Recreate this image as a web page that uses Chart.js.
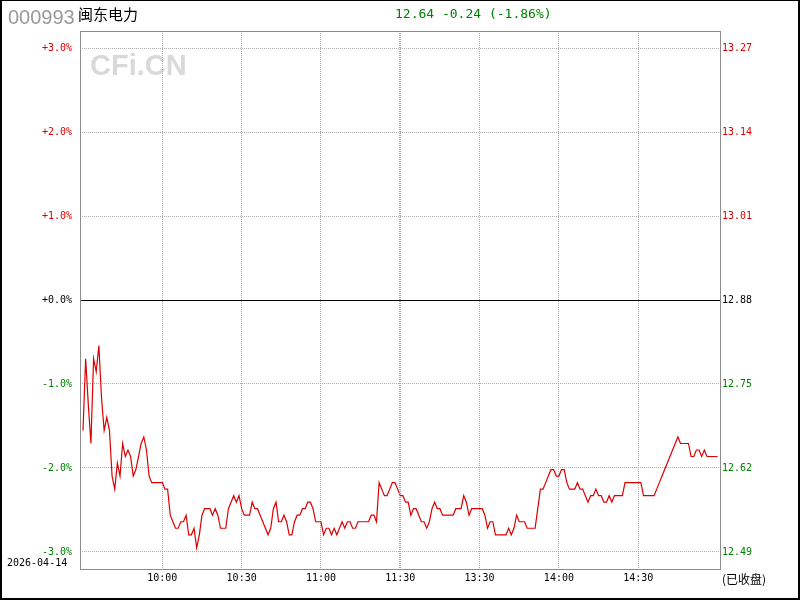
<!DOCTYPE html>
<html>
<head>
<meta charset="utf-8">
<script src="https://cdn.jsdelivr.net/npm/chart.js@4.4.1/dist/chart.umd.min.js"></script>
<style>
  html, body { margin: 0; padding: 0; background: #fff; overflow: hidden; }
  canvas { display: block; }
</style>
</head>
<body>
<canvas id="minuteChart" width="800" height="600"></canvas>
<script>
// ---- data
const stockCode = '000993';
const stockName = '闽东电力';
const tradeDate = '2026-04-14';
const prevClose = 12.88;

// one price per trading minute, 09:30 .. 11:30 / 13:00 .. 15:00
const prices = [
  12.68, 12.79, 12.72, 12.66, 12.79, 12.77, 12.81, 12.73, 12.68, 12.70,
  12.68, 12.61, 12.59, 12.63, 12.61, 12.66, 12.64, 12.65, 12.64, 12.61,
  12.62, 12.64, 12.66, 12.67, 12.65, 12.61, 12.60, 12.60, 12.60, 12.60,
  12.60, 12.59, 12.59, 12.55, 12.54, 12.53, 12.53, 12.54, 12.54, 12.55,
  12.52, 12.52, 12.53, 12.50, 12.52, 12.55, 12.56, 12.56, 12.56, 12.55,
  12.56, 12.55, 12.53, 12.53, 12.53, 12.56, 12.57, 12.58, 12.57, 12.58,
  12.56, 12.55, 12.55, 12.55, 12.57, 12.56, 12.56, 12.55, 12.54, 12.53,
  12.52, 12.53, 12.56, 12.57, 12.54, 12.54, 12.55, 12.54, 12.52, 12.52,
  12.54, 12.55, 12.55, 12.56, 12.56, 12.57, 12.57, 12.56, 12.54, 12.54,
  12.54, 12.52, 12.53, 12.53, 12.52, 12.53, 12.52, 12.53, 12.54, 12.53,
  12.54, 12.54, 12.53, 12.53, 12.54, 12.54, 12.54, 12.54, 12.54, 12.55,
  12.55, 12.54, 12.60, 12.59, 12.58, 12.58, 12.59, 12.60, 12.60, 12.59,
  12.58, 12.58, 12.57, 12.57, 12.55, 12.56, 12.56, 12.55, 12.54, 12.54,
  12.53, 12.54, 12.56, 12.57, 12.56, 12.56, 12.55, 12.55, 12.55, 12.55,
  12.55, 12.56, 12.56, 12.56, 12.58, 12.57, 12.55, 12.56, 12.56, 12.56,
  12.56, 12.56, 12.55, 12.53, 12.54, 12.54, 12.52, 12.52, 12.52, 12.52,
  12.52, 12.53, 12.52, 12.53, 12.55, 12.54, 12.54, 12.54, 12.53, 12.53,
  12.53, 12.53, 12.56, 12.59, 12.59, 12.60, 12.61, 12.62, 12.62, 12.61,
  12.61, 12.62, 12.62, 12.60, 12.59, 12.59, 12.59, 12.60, 12.59, 12.59,
  12.58, 12.57, 12.58, 12.58, 12.59, 12.58, 12.58, 12.57, 12.57, 12.58,
  12.57, 12.58, 12.58, 12.58, 12.58, 12.60, 12.60, 12.60, 12.60, 12.60,
  12.60, 12.60, 12.58, 12.58, 12.58, 12.58, 12.58, 12.59, 12.60, 12.61,
  12.62, 12.63, 12.64, 12.65, 12.66, 12.67, 12.66, 12.66, 12.66, 12.66,
  12.64, 12.64, 12.65, 12.65, 12.64, 12.65, 12.64, 12.64, 12.64, 12.64,
  12.64
];

const pctTicks = [-3, -2, -1, 0, 1, 2, 3];
const timeTicks = [30, 60, 90, 120, 150, 180, 210];
const timeLabels = ['10:00', '10:30', '11:00', '11:30', '13:30', '14:00', '14:30'];

// ---- look
const RED = '#dd0000';
const GREEN = '#008000';
const GRID = '#aaaaaa';
const FRAME = '#8c8c8c';
const pctRange = 3.2024;
const monoFont = '"DejaVu Sans Mono", monospace';

function colorFor(v, base) {
  if (Math.abs(v - base) < 1e-9) return '#000';
  return v > base ? RED : GREEN;
}

const lastPrice = prices[prices.length - 1];
const change = lastPrice - prevClose;
const changePct = change / prevClose * 100;
const headerText = lastPrice.toFixed(2) + ' ' + (change >= 0 ? '+' : '') + change.toFixed(2) +
  ' (' + (changePct >= 0 ? '+' : '') + changePct.toFixed(2) + '%)';

const decor = {
  id: 'decor',
  beforeDraw(chart) {
    const ctx = chart.ctx;
    ctx.save();
    ctx.fillStyle = '#fff';
    ctx.fillRect(0, 0, chart.width, chart.height);
    // watermark
    ctx.font = 'bold 29px "Liberation Sans", Arial, sans-serif';
    ctx.fillStyle = '#d9d9d9';
    ctx.textBaseline = 'alphabetic';
    ctx.fillText('CFi.CN', 90, 75);
    ctx.restore();
  },
  afterDraw(chart) {
    const ctx = chart.ctx;
    const a = chart.chartArea;
    const xs = chart.scales.x;
    ctx.save();
    // second line at the lunch break
    const bx = Math.round(xs.getPixelForValue(120)) - 0.5;
    ctx.strokeStyle = GRID;
    ctx.lineWidth = 1;
    ctx.setLineDash([1, 1]);
    ctx.beginPath();
    ctx.moveTo(bx, a.top);
    ctx.lineTo(bx, a.bottom);
    ctx.stroke();
    ctx.setLineDash([]);
    // plot frame
    ctx.strokeStyle = FRAME;
    ctx.strokeRect(a.left + 0.5, a.top + 0.5, a.right - a.left, a.bottom - a.top);
    // outer frame
    ctx.fillStyle = '#000';
    ctx.fillRect(0, 0, 800, 1);
    ctx.fillRect(0, 0, 2, 600);
    ctx.fillRect(798, 0, 2, 600);
    ctx.fillRect(0, 598, 800, 2);
    // header
    ctx.textBaseline = 'alphabetic';
    ctx.font = '20px "Liberation Sans", Arial, sans-serif';
    ctx.fillStyle = '#9a9a9a';
    ctx.fillText(stockCode, 8, 24);
    ctx.textBaseline = 'middle';
    ctx.font = '15px "Noto Sans CJK SC", sans-serif';
    ctx.fillStyle = '#000';
    ctx.fillText(stockName, 78, 14.5);
    ctx.font = '13px ' + monoFont;
    ctx.fillStyle = colorFor(lastPrice, prevClose);
    ctx.fillText(headerText, 395, 14.5);
    // footer
    ctx.font = '10px ' + monoFont;
    ctx.fillStyle = '#000';
    ctx.fillText(tradeDate, 7, 563);
    ctx.font = '12px "Noto Sans CJK SC", sans-serif';
    ctx.fillText('(已收盘)', 722, 579);
    ctx.restore();
  }
};

const ctx = document.getElementById('minuteChart');
const chart = new Chart(ctx, {
  type: 'line',
  data: {
    datasets: [{
      data: prices.map((p, i) => ({ x: i, y: p })),
      xAxisID: 'x',
      yAxisID: 'yPrice',
      borderColor: RED,
      borderWidth: 1.2,
      pointRadius: 0,
      tension: 0,
      fill: false
    }]
  },
  options: {
    responsive: false,
    devicePixelRatio: 1,
    animation: false,
    layout: { padding: { top: 31, left: 0, right: 0, bottom: 0 } },
    plugins: { legend: { display: false }, tooltip: { enabled: false } },
    scales: {
      x: {
        type: 'linear',
        min: -1.135,
        max: 240.93,
        afterBuildTicks: s => { s.ticks = timeTicks.map(v => ({ value: v })); },
        afterFit: s => { s.height = 31; },
        grid: { color: GRID, lineWidth: 1, drawTicks: false },
        border: { display: false, dash: [1, 1] },
        ticks: {
          autoSkip: false,
          maxRotation: 0,
          padding: 3,
          color: '#000',
          font: { family: monoFont, size: 10 },
          callback: (v, i) => timeLabels[i]
        }
      },
      yPct: {
        type: 'linear',
        position: 'left',
        min: -pctRange,
        max: pctRange,
        afterBuildTicks: s => { s.ticks = pctTicks.map(v => ({ value: v })); },
        afterFit: s => { s.width = 80; },
        grid: {
          drawTicks: false,
          lineWidth: 1,
          color: c => (c.tick && c.tick.value === 0) ? '#000' : GRID
        },
        border: {
          display: false,
          dash: c => (c.tick && c.tick.value === 0) ? [] : [1, 1]
        },
        ticks: {
          padding: 8,
          font: { family: monoFont, size: 10 },
          color: c => colorFor(c.tick.value, 0),
          callback: v => (v >= 0 ? '+' : '') + v.toFixed(1) + '%'
        }
      },
      yPrice: {
        type: 'linear',
        position: 'right',
        min: prevClose * (1 - pctRange / 100),
        max: prevClose * (1 + pctRange / 100),
        afterBuildTicks: s => { s.ticks = pctTicks.map(p => ({ value: prevClose * (1 + p / 100) })); },
        afterFit: s => { s.width = 80; },
        grid: { display: false, drawTicks: false },
        border: { display: false },
        ticks: {
          padding: 2,
          font: { family: monoFont, size: 10 },
          color: c => colorFor(Math.round(c.tick.value * 100) / 100, prevClose),
          callback: v => v.toFixed(2)
        }
      }
    }
  },
  plugins: [decor]
});
</script>
</body>
</html>
